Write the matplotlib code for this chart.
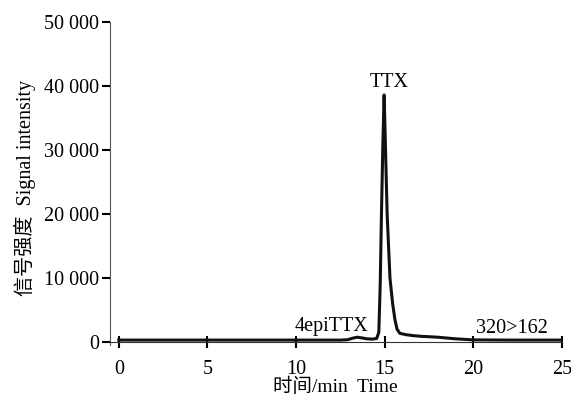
import matplotlib.pyplot as plt

# 色谱图数据
tempo = [0, 5, 10, 12.5, 12.9, 13.2, 13.45, 13.7, 14.0, 14.3, 14.55, 14.67, 14.75,
         14.82, 14.9, 14.97, 15.05, 15.14, 15.3, 15.45, 15.58, 15.7, 15.86, 16.2,
         16.6, 17.0, 18.0, 19.0, 20.0, 22.0, 25.0]
sinal = [300, 300, 300, 300, 350, 600, 750, 650, 500, 450, 550, 1500, 9000,
         20000, 31000, 38600, 30000, 20000, 10000, 6000, 3500, 2000, 1350, 1150,
         1000, 900, 750, 500, 330, 300, 300]

xticks = [0, 5, 10, 15, 20, 25]
yticks = [0, 10000, 20000, 30000, 40000, 50000]
ytick_labels = ["0", "10 000", "20 000", "30 000", "40 000", "50 000"]

plt.rcParams['font.family'] = ['Liberation Serif', 'Noto Sans CJK SC']

fig = plt.figure(figsize=(5.71, 3.99), dpi=100)
ax = fig.add_axes([0.1926, 0.1348, 0.7914, 0.8103])

ax.plot(tempo, sinal, color='#111111', linewidth=2.2)

ax.set_xlim(-0.5, 25)
ax.set_ylim(-500, 50000)
ax.spines['top'].set_visible(False)
ax.spines['right'].set_visible(False)
ax.spines['bottom'].set_position(('data', 0))
ax.spines['left'].set_color('#555555')
ax.spines['bottom'].set_color('#333333')

ax.set_xticks(xticks)
ax.set_xticklabels([str(t) for t in xticks])
ax.set_yticks(yticks)
ax.set_yticklabels(ytick_labels)
ax.tick_params(axis='x', direction='inout', length=8, width=1.5, labelsize=14.5, pad=9)
ax.tick_params(axis='y', direction='out', length=6, width=1.5, labelsize=14.5, pad=2)

ax.text(15.25, 39000, "TTX", ha='center', va='bottom', fontsize=14.5)
ax.text(12.0, 1000, "4epiTTX", ha='center', va='bottom', fontsize=14.5)
ax.text(22.2, 700, "320>162", ha='center', va='bottom', fontsize=14.5)

fig.text(0.587, 0.03, "时间/min  Time", ha='center', va='center', fontsize=14)
fig.text(0.044, 0.53, "信号强度  Signal intensity", ha='center', va='center',
         rotation=90, fontsize=14.5)

fig.savefig("out.png", dpi=100)
